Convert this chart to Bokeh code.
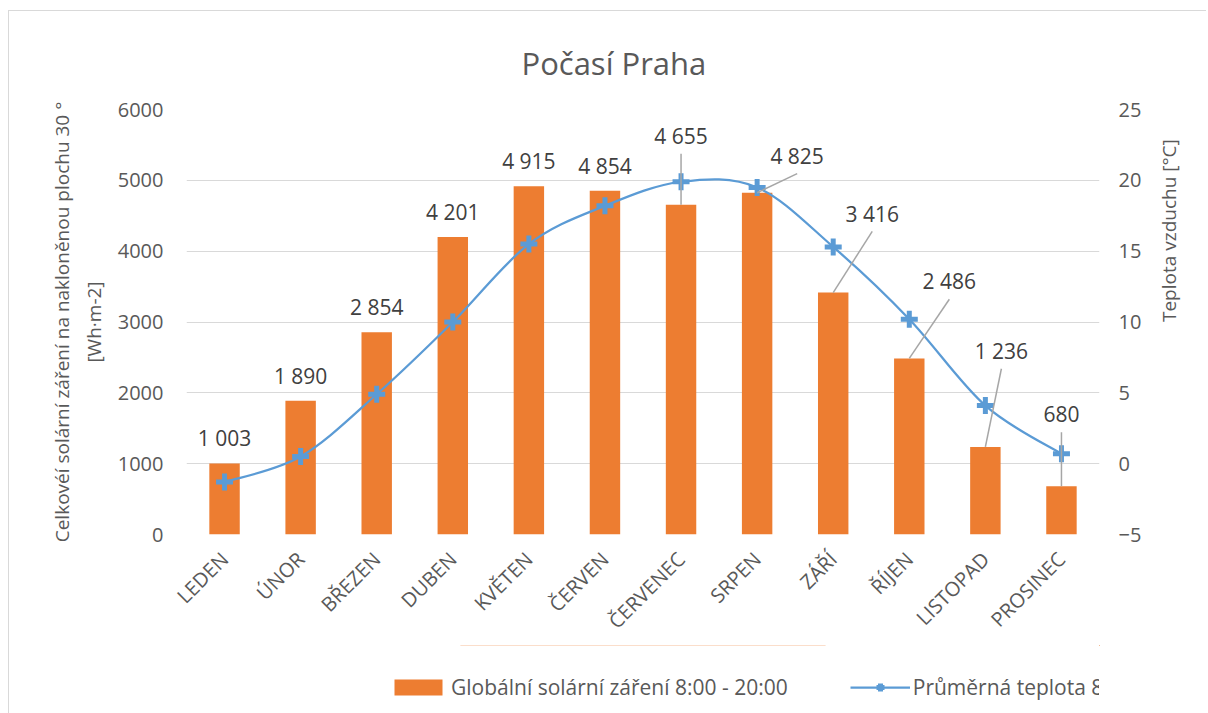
import math
from bokeh.plotting import figure
from bokeh.layouts import column
from bokeh.models import (Range1d, LinearAxis, FixedTicker, Legend, LegendItem,
                          ColumnDataSource)
from bokeh.core.properties import value
from bokeh.embed import file_html
from bokeh.resources import INLINE

# ---- data ----
months = ["LEDEN", "ÚNOR", "BŘEZEN", "DUBEN", "KVĚTEN", "ČERVEN",
          "ČERVENEC", "SRPEN", "ZÁŘÍ", "ŘÍJEN", "LISTOPAD", "PROSINEC"]
solar = [1003, 1890, 2854, 4201, 4915, 4854, 4655, 4825, 3416, 2486, 1236, 680]
temps = [-1.3, 0.5, 4.9, 10.0, 15.5, 18.2, 19.9, 19.5, 15.3, 10.2, 4.1, 0.7]
left_ticks = [0, 1000, 2000, 3000, 4000, 5000, 6000]
right_ticks = [-5, 0, 5, 10, 15, 20, 25]
series_names = ["Globální solární záření 8:00 - 20:00", "Průměrná teplota 8:00 - 20:00"]

# label placement (screen px relative to bar top) - style only
label_dx = [0, 0, 0, 0, 0, 0, 0, 40, 39, 40, 16, 0]
label_dy = [-25, -25, -25, -25, -25, -25, -69, -37, -79, -77, -96, -72]
leader = [False] * 6 + [True] * 6

FONT = "Open Sans"
TXT = "#595959"
ORANGE = "#ED7D31"
BLUE = "#5B9BD5"
GRID = "#D9D9D9"

FW, FH = 912, 424
ML, MR, MT, MB = 177, 108, 98, 104

p = figure(frame_width=FW, frame_height=FH, output_backend="svg",
           toolbar_location=None,
           x_range=Range1d(0, len(months)), y_range=Range1d(0, 6000),
           min_border_left=ML, min_border_right=MR, min_border_top=MT,
           min_border_bottom=MB, title="Počasí Praha")
p.styles = {"border-left": "1px solid #D9D9D9", "border-top": "1px solid #D9D9D9",
            "margin-left": "8px", "margin-top": "10px"}
p.outline_line_color = None
p.extra_y_ranges = {"temp": Range1d(-5, 25)}

xs = [i + 0.5 for i in range(len(months))]
px_x = len(months) / FW
px_y = 6000 / FH

# bars
bar_src = ColumnDataSource(dict(x=xs, top=solar))
p.vbar(x="x", top="top", width=0.4, source=bar_src, fill_color=ORANGE,
       line_color=None)

# smooth temperature line (Catmull-Rom style bezier between points)
n = len(temps)
bz = dict(x0=[], y0=[], x1=[], y1=[], cx0=[], cy0=[], cx1=[], cy1=[])
for i in range(n - 1):
    xa, ya = xs[i], temps[i]
    xb, yb = xs[i + 1], temps[i + 1]
    xp, yp = (xs[i - 1], temps[i - 1]) if i > 0 else (xa, ya)
    xn, yn = (xs[i + 2], temps[i + 2]) if i + 2 < n else (xb, yb)
    bz["x0"].append(xa); bz["y0"].append(ya)
    bz["x1"].append(xb); bz["y1"].append(yb)
    bz["cx0"].append(xa + (xb - xp) / 6); bz["cy0"].append(ya + (yb - yp) / 6)
    bz["cx1"].append(xb - (xn - xa) / 6); bz["cy1"].append(yb - (yn - ya) / 6)
p.bezier(x0="x0", y0="y0", x1="x1", y1="y1", cx0="cx0", cy0="cy0",
         cx1="cx1", cy1="cy1", source=ColumnDataSource(bz),
         line_color=BLUE, line_width=2.25, y_range_name="temp")
p.scatter(x=xs, y=temps, marker="cross", size=17, line_color=BLUE,
          line_width=5, y_range_name="temp")

# leader lines
lx0, ly0, lx1, ly1 = [], [], [], []
for i in range(n):
    if leader[i]:
        lx0.append(xs[i]); ly0.append(solar[i])
        lx1.append(xs[i] + label_dx[i] * px_x)
        ly1.append(solar[i] + (-label_dy[i] - 18) * px_y)
p.segment(x0=lx0, y0=ly0, x1=lx1, y1=ly1, line_color="#A6A6A6", line_width=1.5)

# data labels
lab_src = ColumnDataSource(dict(
    x=xs, y=solar, t=[f"{v:,}".replace(",", " ") for v in solar],
    dx=label_dx, dy=label_dy))
p.text(x="x", y="y", text="t", x_offset="dx", y_offset="dy", source=lab_src,
       text_font=value(FONT), text_font_size="21px", text_color="#404040",
       text_align="center", text_baseline="middle")

# title
p.title.align = "left"
p.title.offset = 335
p.title.standoff = 52
p.title.text_font = FONT
p.title.text_font_size = "31px"
p.title.text_color = TXT
p.title.text_font_style = "normal"

# axes
def style_axis(ax, size="20px"):
    ax.axis_line_color = None
    ax.major_tick_line_color = None
    ax.minor_tick_line_color = None
    ax.major_tick_out = 0
    ax.major_tick_in = 0
    ax.major_label_text_font = FONT
    ax.major_label_text_font_size = size
    ax.major_label_text_color = TXT
    ax.axis_label_text_font = FONT
    ax.axis_label_text_font_size = "19px"
    ax.axis_label_text_font_style = "normal"
    ax.axis_label_text_color = TXT

xa = p.xaxis[0]
style_axis(xa)
xa.ticker = FixedTicker(ticks=xs)
xa.major_label_overrides = {x: m for x, m in zip(xs, months)}
xa.major_label_orientation = math.pi / 4
xa.major_label_standoff = 21

ya = p.yaxis[0]
style_axis(ya)
ya.ticker = FixedTicker(ticks=left_ticks)
ya.major_label_standoff = 23
ya.axis_label = "Celkovéí solární záření na nakloněnou plochu 30 °\n[Wh·m-2]"
ya.axis_label_text_line_height = 1.22
ya.axis_label_standoff = 8

ra = LinearAxis(y_range_name="temp")
style_axis(ra)
ra.ticker = FixedTicker(ticks=right_ticks)
ra.major_label_standoff = 19
ra.axis_label = "Teplota vzduchu [°C]"
ra.axis_label_orientation = math.pi / 2
ra.axis_label_standoff = 25
p.add_layout(ra, "right")

p.xgrid.grid_line_color = None
p.ygrid.grid_line_color = GRID
p.ygrid.grid_line_width = 1
p.ygrid.ticker = FixedTicker(ticks=left_ticks)

# ---- legend strip below the chart (same series, drawn out of view) ----
leg = figure(width=1198, height=70, output_backend="svg",
             toolbar_location=None, title=None, min_border=0,
             x_axis_location=None, y_axis_location=None,
             x_range=Range1d(0, 1), y_range=Range1d(-100, -99))
leg.styles = {"border-left": "1px solid #D9D9D9", "margin-left": "8px"}
leg.outline_line_color = None
leg.grid.visible = False
r_bar = leg.vbar(x=xs, top=solar, width=0.4, fill_color=ORANGE, line_color=None)
r_line = leg.line(x=xs, y=temps, line_color=BLUE, line_width=2.25)
r_mark = leg.scatter(x=xs, y=temps, marker="cross", size=17, line_color=BLUE,
                     line_width=5)

legend = Legend(items=[
    LegendItem(label=series_names[0], renderers=[r_bar]),
    LegendItem(label=series_names[1], renderers=[r_line, r_mark]),
], orientation="horizontal", location=(202, 14))
legend.label_text_font = FONT
legend.label_text_font_size = "21px"
legend.label_text_color = TXT
legend.glyph_width = 60
legend.glyph_height = 20
legend.label_height = 20
legend.label_standoff = 3
legend.spacing = 62
legend.padding = 0
legend.margin = 0
legend.border_line_color = None
legend.background_fill_alpha = 0
leg.add_layout(legend, "center")

layout = column(p, leg, spacing=0)
open("out.html", "w").write(file_html(layout, INLINE))
